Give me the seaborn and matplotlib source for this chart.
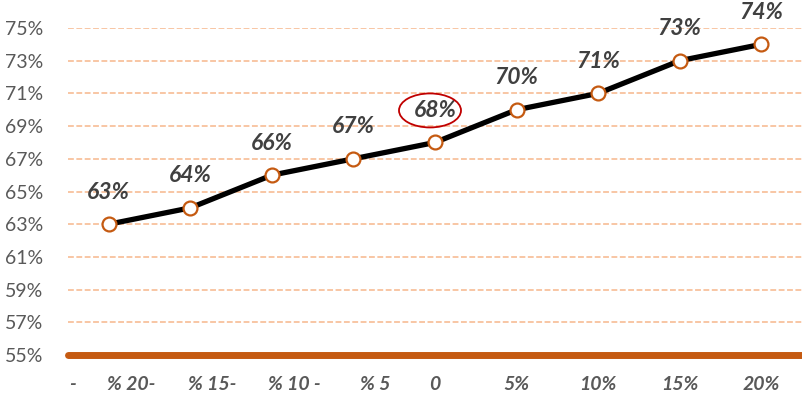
import matplotlib
matplotlib.use("Agg")
import matplotlib.pyplot as plt
import matplotlib.transforms as mtransforms
from matplotlib.patches import Ellipse
import seaborn as sns
import pandas as pd
import numpy as np

categories = ["% 20-", "% 15-", "% 10 -", "% 5", "0", "5%", "10%", "15%", "20%"]
values = [63, 64, 66, 67, 68, 70, 71, 73, 74]
y_ticks = [55, 57, 59, 61, 63, 65, 67, 69, 71, 73, 75]
highlight = "0"

df = pd.DataFrame({"pos": np.arange(len(categories)), "cat": categories, "val": values})

sns.set_theme(style="white")
plt.rcParams["font.family"] = ["Lato", "DejaVu Sans"]

fig = plt.figure(figsize=(8.02, 4.01), dpi=100)
ax = fig.add_axes([68/802, 46/401, 1 - 68/802, (355-28)/401])

sns.lineplot(data=df, x="pos", y="val", ax=ax, color="black", linewidth=3.8,
             marker="o", markersize=10, markerfacecolor="white",
             markeredgecolor="#C55A11", markeredgewidth=1.6, zorder=5)

ax.set_xlim(-0.5, len(categories) - 0.5)
ax.set_ylim(55, 75)
ax.set_yticks(y_ticks)
ax.set_yticklabels([f"{t}%" for t in y_ticks], fontsize=14, color="#595959")
for t in y_ticks[1:]:
    ax.axhline(t, color="#F8C6A4", linestyle=(0, (3, 1.3)), linewidth=1.4, zorder=1)
ax.axhline(55, color="#C55A11", linewidth=5, zorder=2, clip_on=False)

for s in ax.spines.values():
    s.set_visible(False)
ax.tick_params(axis="y", length=0, pad=18)
ax.tick_params(axis="x", length=0, pad=15)
ax.set_xlabel("")
ax.set_ylabel("")

ax.set_xticks(df["pos"])
ax.set_xticklabels(categories, fontsize=14, color="#595959", style="italic", fontweight="bold")
for i, lbl in enumerate(ax.get_xticklabels()):
    if categories[i].startswith("%"):
        lbl.set_transform(lbl.get_transform() + mtransforms.ScaledTranslation(22/100, 0, fig.dpi_scale_trans))
# stray dash at left of the axis labels (from the original rendering)
ax.text(-0.45, -0.09, "-", transform=mtransforms.blended_transform_factory(ax.transData, ax.transAxes),
        ha="center", va="center", fontsize=14, color="#595959", style="italic", fontweight="bold")

off = mtransforms.offset_copy(ax.transData, fig=fig, x=0, y=32, units="dots")
for x, v, c in zip(df["pos"], values, categories):
    ax.text(x, v, f"{v}%", transform=off, ha="center", va="center", fontsize=16.5,
            fontweight="bold", style="italic", color="#404040", zorder=6, clip_on=False)
    if c == highlight:
        lx, ly = ax.transData.transform((x, v))
        ly += 32
        lx -= 5
        ix, iy = ax.transData.inverted().transform((lx, ly))
        hx, hy = ax.transData.inverted().transform((lx + 31, ly + 17))
        e = Ellipse((ix, iy), width=2*(hx-ix), height=2*(hy-iy), fill=False,
                    edgecolor="#C00000", linewidth=1.3, zorder=7, clip_on=False)
        ax.add_patch(e)

fig.savefig("out.png", dpi=100)
